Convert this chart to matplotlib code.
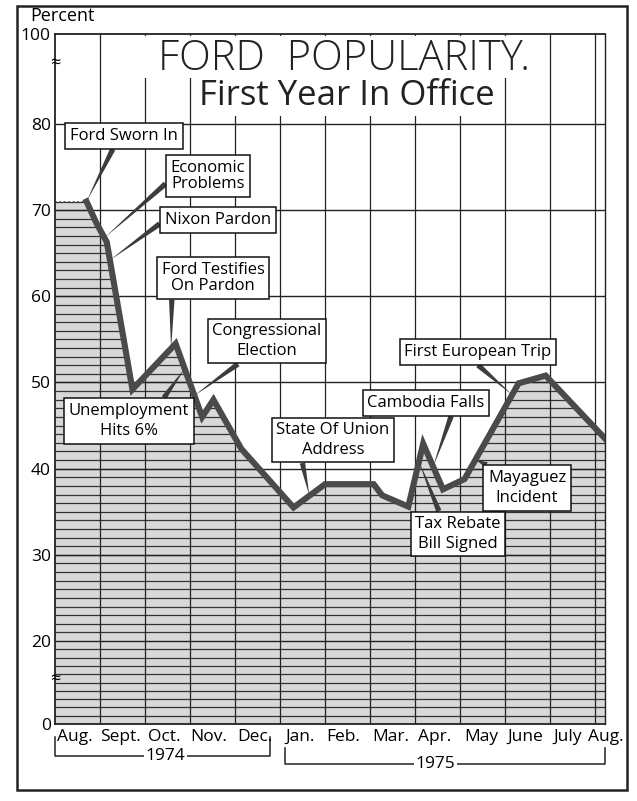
import numpy as np
import matplotlib
matplotlib.use("Agg")
import matplotlib.pyplot as plt
import matplotlib.transforms as mtransforms
from matplotlib.patches import Rectangle

plt.rcParams['font.family'] = ['Open Sans', 'DejaVu Sans']

# months counted from 1 Aug 1974, approval in percent
months = [0.7, 0.92, 1.15, 1.72, 2.68, 3.27, 3.52, 4.14, 5.3, 6.0, 7.08, 7.27,
          7.85, 8.18, 8.62, 9.1, 10.3, 10.9, 12.22]
approval = [71, 68.5, 66.3, 49.2, 54.5, 46.0, 48.0, 42.3, 35.5, 38.2, 38.2, 36.9,
            35.6, 42.9, 37.6, 38.8, 49.9, 50.8, 43.5]

month_labels = ["Aug.", "Sept.", "Oct.", "Nov.", "Dec.", "Jan.", "Feb.", "Mar.",
                "Apr.", "May", "June", "July", "Aug."]
y_ticks = [0, 20, 30, 40, 50, 60, 70, 80, 100]
x_end = 12.22

# label, month, value on the line
events = [
    ("Ford Sworn In", 0.7, 71.0),
    ("Economic\nProblems", 1.1, 66.8),
    ("Nixon Pardon", 1.22, 64.2),
    ("Ford Testifies\nOn Pardon", 2.58, 53.9),
    ("Congressional\nElection", 3.1, 48.5),
    ("Unemployment\nHits 6%", 2.88, 51.6),
    ("State Of Union\nAddress", 5.65, 36.9),
    ("Cambodia Falls", 8.4, 40.2),
    ("First European Trip", 10.15, 48.6),
    ("Mayaguez\nIncident", 9.35, 41.0),
    ("Tax Rebate\nBill Signed", 8.08, 40.9),
]
# box centre (px from top-left), leader start on box, line spacing
box_pos = [
    (124, 136, (0.42, 0.0), 1.2),
    (208, 176, (0.0, 0.4), 1.0),
    (218, 220, (0.0, 0.5), 1.2),
    (213, 278, (0.1, 0.0), 1.05),
    (267, 341, (0.3, 0.0), 1.3),
    (129, 421, (0.76, 1.0), 1.35),
    (333, 440, (0.22, 0.0), 1.3),
    (426, 403, (0.73, 0.0), 1.2),
    (478, 352, (0.46, 0.0), 1.2),
    (527, 488, (0.14, 1.0), 1.35),
    (458, 534, (0.3, 1.0), 1.3),
]
# small nudges of the month names (px), as printed
label_shift = [2, 0, 3, 0, 2, 5, 1, 2, 3, 4, 2, 3, -7]

W, H = 637, 801

# broken axis: 0-20 and 80-100 squeezed
brk_v = [0, 20, 80, 100]
brk_u = [0, 9.63, 69.63, 80.07]

def fwd(v):
    v = np.asarray(v, dtype=float)
    u = np.interp(v, brk_v, brk_u)
    u = np.where(v < 0, v * brk_u[1] / 20, u)
    u = np.where(v > 100, brk_u[3] + (v - 100) * 0.522, u)
    return u

def inv(u):
    u = np.asarray(u, dtype=float)
    v = np.interp(u, brk_u, brk_v)
    v = np.where(u < 0, u * 20 / brk_u[1], v)
    v = np.where(u > brk_u[3], 100 + (u - brk_u[3]) / 0.522, v)
    return v

fig = plt.figure(figsize=(W / 100, H / 100), dpi=100)
ax = fig.add_axes([55 / W, (H - 724) / H, 550 / W, 690 / H])
ax.set_yscale('function', functions=(fwd, inv))
ax.set_xlim(0, x_end)
ax.set_ylim(0, 100)

# shaded area under the curve
fx = [0] + months
fy = [approval[0]] + approval
poly = ax.fill_between(fx, fy, 0, facecolor='#d8d8d8', edgecolor='none', zorder=1)
ax.plot([0, months[0]], [approval[0], approval[0]], ls=':', color='#444', lw=1.2, zorder=2)

hatch = np.r_[np.arange(2, 20, 2), np.arange(21, 80, 1)]
hl = ax.hlines(hatch, 0, x_end, colors='#333', lw=0.9, zorder=1.5)
hl.set_clip_path(poly.get_paths()[0], ax.transData)

ax.hlines([20, 30, 40, 50, 60, 70, 80], 0, x_end, colors='#222', lw=1.0, zorder=2)
ax.vlines(range(1, 13), 0, 100, colors='#222', lw=0.9, zorder=2)

ax.plot(months, approval, color='#4a4a4a', lw=4.4, solid_joinstyle='miter', zorder=4)

for s in ax.spines.values():
    s.set_linewidth(1.3)
    s.set_color('#222')
ax.spines['right'].set_linewidth(1.0)

ax.set_yticks(y_ticks)
ax.set_yticklabels([str(t) for t in y_ticks])
ax.minorticks_off()
ax.set_xticks([])
ax.tick_params(axis='both', length=0, labelsize=12.5)
ax.tick_params(axis='y', pad=3)

# month names, left-aligned at the start of each month
for i, lab in enumerate(month_labels):
    tr = mtransforms.offset_copy(ax.get_xaxis_transform(), fig=fig,
                                 x=label_shift[i], y=-13, units='dots')
    ax.text(i, 0, lab, transform=tr, ha='left', va='center', fontsize=12.5, clip_on=False)

for yv in (93.5, 11):
    ax.text(0, yv, '≈', ha='center', va='center', fontsize=13, clip_on=False, zorder=6)

# events with leader wedges
for (txt, mx, my), (bx, by, rp, ls) in zip(events, box_pos):
    ax.annotate(txt, xy=(mx, my), xytext=(bx, H - by), textcoords='figure pixels',
                ha='center', va='center', fontsize=12, linespacing=ls, zorder=6,
                bbox=dict(boxstyle='square,pad=0.28', fc='white', ec='#111', lw=1.1),
                arrowprops=dict(arrowstyle='wedge,tail_width=0.33', fc='#3c3c3c',
                                ec='none', relpos=rp, shrinkA=0, shrinkB=0))

# year brackets under the month labels
bt = mtransforms.blended_transform_factory(ax.transData, fig.transFigure)
def fy_px(p):
    return 1 - p / H
ax.plot([0, 0, 4.78, 4.78], [fy_px(737), fy_px(756), fy_px(756), fy_px(737)],
        transform=bt, color='#222', lw=1.1, clip_on=False)
ax.plot([5.1, 5.1, x_end, x_end], [fy_px(748), fy_px(764), fy_px(764), fy_px(748)],
        transform=bt, color='#222', lw=1.1, clip_on=False)
ax.text(2.45, fy_px(756), '1974', transform=bt, ha='center', va='center', fontsize=12.5,
        bbox=dict(fc='white', ec='none', pad=1))
ax.text(8.45, fy_px(764), '1975', transform=bt, ha='center', va='center', fontsize=12.5,
        bbox=dict(fc='white', ec='none', pad=1))

# title over white panels
fig.add_artist(Rectangle((140 / W, 1 - 78 / H), 405 / W, 42 / H, transform=fig.transFigure,
                         fc='white', ec='none', zorder=2))
fig.add_artist(Rectangle((193 / W, 1 - 116 / H), 309 / W, 38 / H, transform=fig.transFigure,
                         fc='white', ec='none', zorder=2))
fig.text(344 / W, 1 - 59 / H, 'FORD  POPULARITY.', ha='center', va='center',
         fontsize=30, fontweight='light', color='#222', zorder=3)
fig.text(347 / W, 1 - 96 / H, 'First Year In Office', ha='center', va='center',
         fontsize=25, color='#222', zorder=3)
fig.text(30 / W, 1 - 16 / H, 'Percent', ha='left', va='center', fontsize=13)

# outer frame
fig.add_artist(Rectangle((17 / W, 1 - 790 / H), 610 / W, 784 / H, transform=fig.transFigure,
                         fill=False, ec='#222', lw=1.8, zorder=5))

fig.savefig('out.png', dpi=100, facecolor='white')
